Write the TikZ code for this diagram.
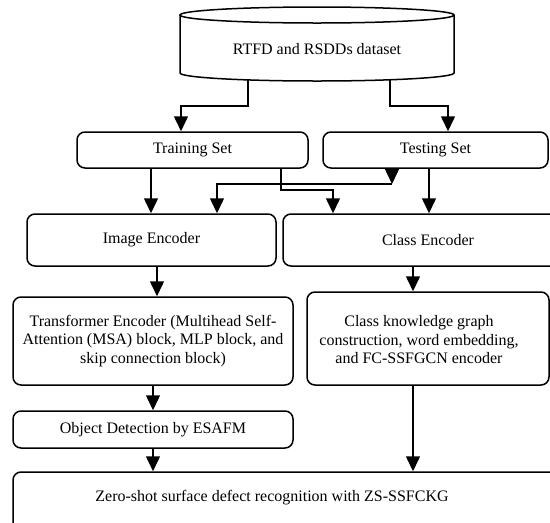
\documentclass[tikz,border=0pt]{standalone}
\usepackage{fontspec}
\setmainfont{Liberation Serif}
\usetikzlibrary{arrows.meta}
\begin{document}
\begin{tikzpicture}[x=1pt,y=-1pt,
  line width=1.5pt,
  box/.style={draw,rounded corners=8pt,inner sep=0pt,align=center,
    font=\fontsize{16}{18.5}\selectfont},
  txt/.style={inner sep=0pt,align=center,font=\fontsize{16}{18.5}\selectfont},
  arr/.style={-{Triangle[length=15pt,width=14pt]}}]
\useasboundingbox (0,0) rectangle (550,523);
\clip (0,0) rectangle (550,523);
% database cylinder
\draw (180,15) -- (180,73) arc[start angle=180,end angle=360,x radius=137pt,y radius=8pt] -- (454,15);
\draw (317,15) ellipse[x radius=137pt,y radius=8pt];
\node[txt] (db) at (317,49) {RTFD and RSDDs dataset};
\coordinate (dbL) at (248,79);
\coordinate (dbR) at (390,80);
% boxes
\node[box,minimum width=231pt,minimum height=36pt] (train) at (192.5,150) {Training Set};
\node[box,minimum width=225pt,minimum height=36pt] (test) at (435.5,150) {Testing Set};
\node[box,minimum width=249pt,minimum height=52pt] (img) at (151.5,240) {Image Encoder};
\node[box,minimum width=290pt,minimum height=52pt] (cls) at (428,240) {Class Encoder};
\node[box,minimum width=280pt,minimum height=88pt] (trf) at (153,341)
  {Transformer Encoder (Multihead Self-\\Attention (MSA) block, MLP block, and\\skip connection block)};
\node[box,minimum width=242pt,minimum height=93pt] (ck) at (428,338.5) {};
\node[txt] (ckt) at (419,340) {Class knowledge graph\\construction, word embedding,\\and FC-SSFGCN encoder};
\node[box,minimum width=280pt,minimum height=37pt] (obj) at (153,429.5) {Object Detection by ESAFM};
\node[box,minimum width=560pt,minimum height=70pt] (zero) at (293,507) {};
\node[txt] (zerot) at (272,498) {Zero-shot surface defect recognition with ZS-SSFCKG};
% connectors
\draw[arr] (dbL) -- (248,106) -| (181,0 |- train.north);
\draw[arr] (dbR) -- (390,106) -| (448,0 |- test.north);
\draw[arr] (151,0 |- train.south) -- (151,0 |- img.north);
\draw[arr] (281,0 |- train.south) -- (281,190) -| (333,0 |- cls.north);
\coordinate (tc) at (392,184);
\draw[arr] (392,0 |- test.south) -- (tc);
\draw[arr] (tc) -| (217,0 |- img.north);
\draw[arr] (429,0 |- test.south) -- (429,0 |- cls.north);
\draw[arr] (157,0 |- img.south) -- (157,0 |- trf.north);
\draw[arr] (413,0 |- cls.south) -- (413,0 |- ck.north);
\draw[arr] (153,0 |- trf.south) -- (153,0 |- obj.north);
\draw[arr] (153,0 |- obj.south) -- (153,0 |- zero.north);
\draw[arr] (413,0 |- ck.south) -- (413,0 |- zero.north);
\end{tikzpicture}
\end{document}
